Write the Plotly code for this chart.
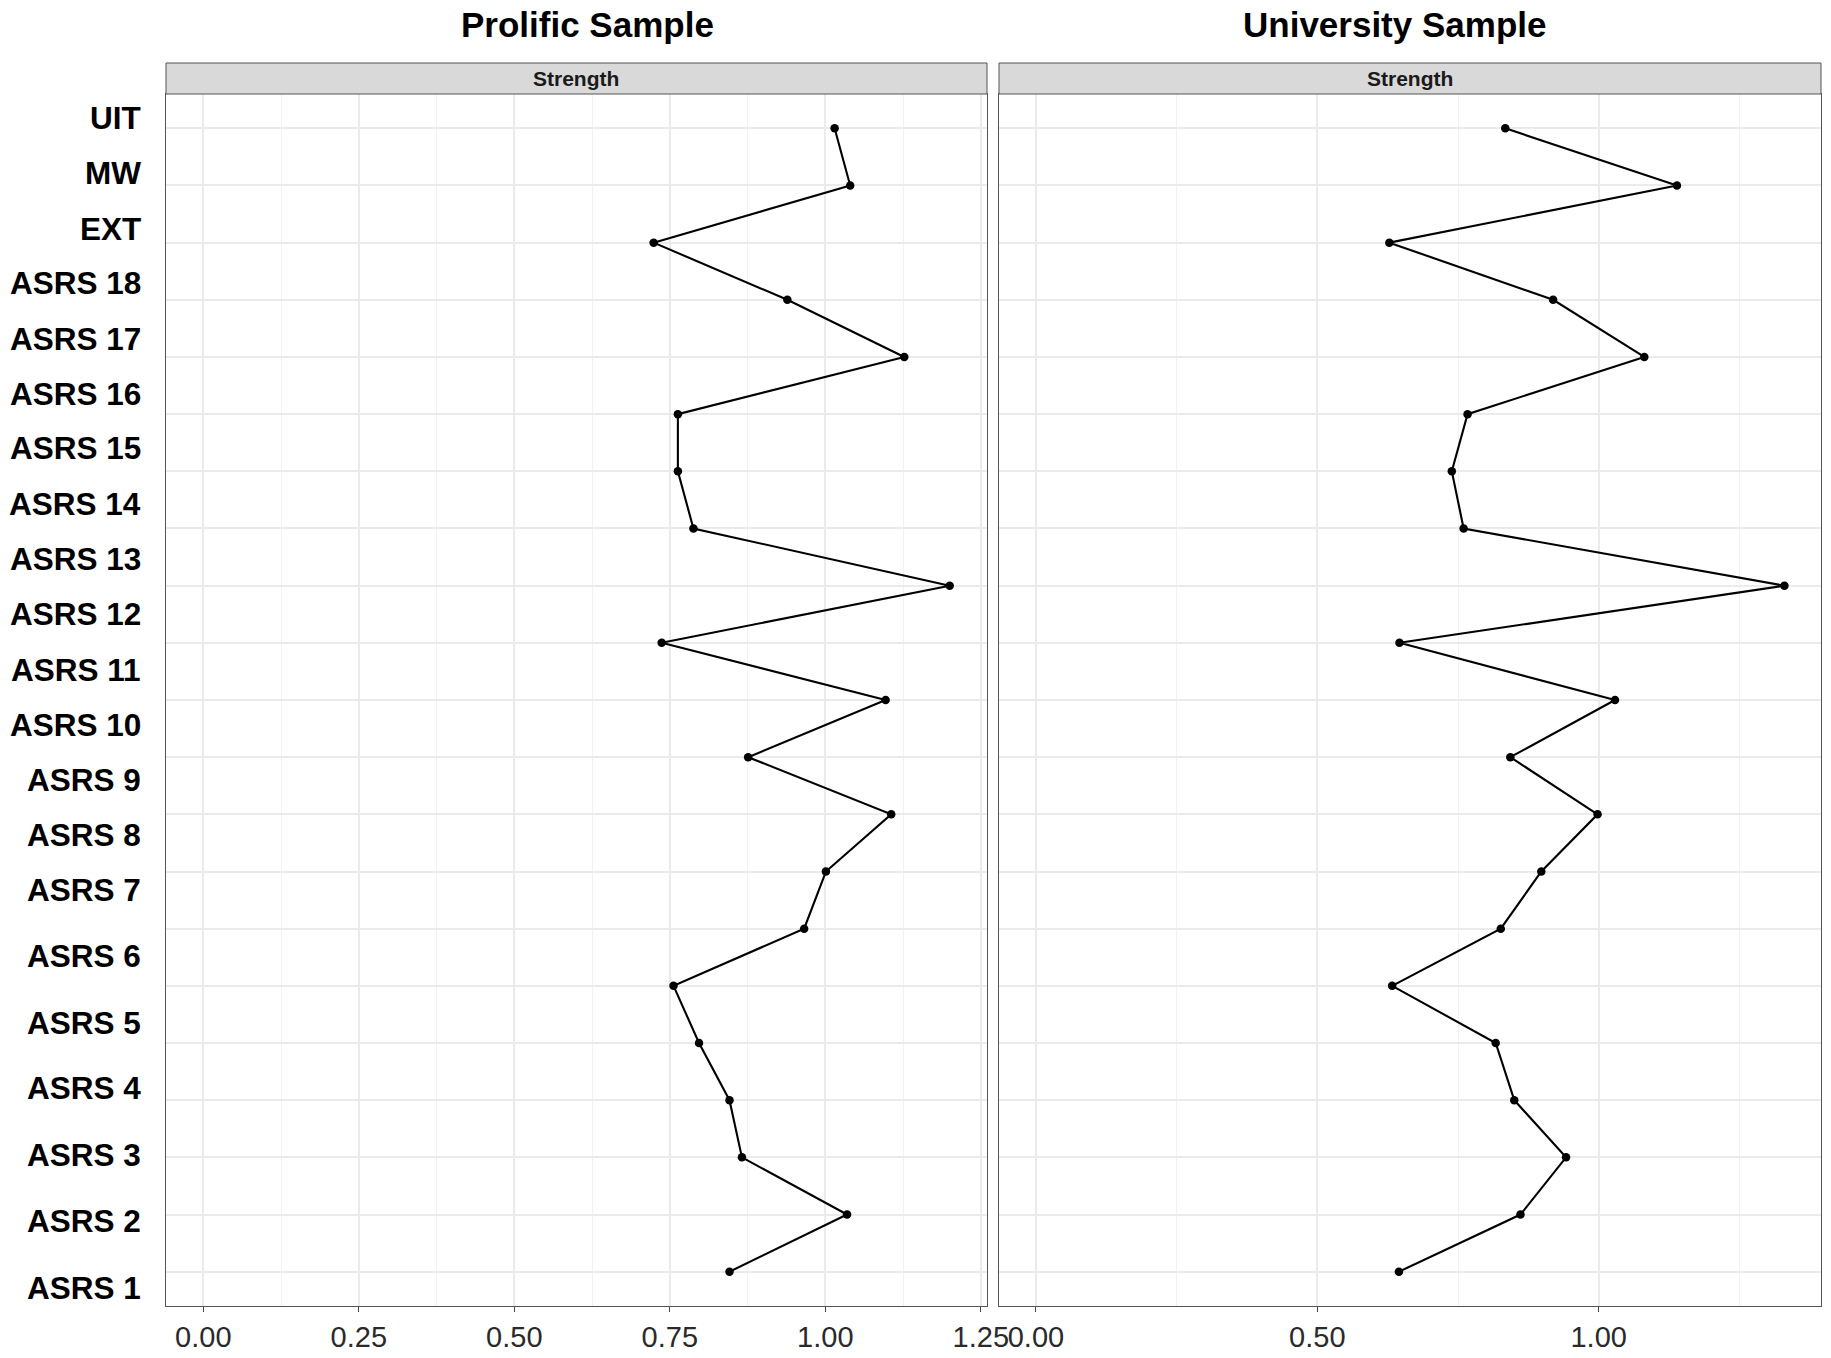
import plotly.graph_objects as go

# Node labels, top to bottom
nodes = ["UIT", "MW", "EXT", "ASRS 18", "ASRS 17", "ASRS 16", "ASRS 15", "ASRS 14",
         "ASRS 13", "ASRS 12", "ASRS 11", "ASRS 10", "ASRS 9", "ASRS 8", "ASRS 7",
         "ASRS 6", "ASRS 5", "ASRS 4", "ASRS 3", "ASRS 2", "ASRS 1"]

# Strength centrality values
prolific_strength = [1.015, 1.040, 0.724, 0.939, 1.127, 0.763, 0.763, 0.788,
                     1.200, 0.737, 1.097, 0.876, 1.106, 1.001, 0.966,
                     0.756, 0.797, 0.846, 0.866, 1.035, 0.846]
university_strength = [0.834, 1.139, 0.628, 0.919, 1.081, 0.767, 0.739, 0.760,
                       1.330, 0.646, 1.029, 0.843, 0.998, 0.898, 0.826,
                       0.633, 0.817, 0.850, 0.942, 0.861, 0.645]

panel_titles = ["Prolific Sample", "University Sample"]
strip_label = "Strength"

W, H = 1831, 1358
FONT = "Liberation Sans, Arial, Helvetica, sans-serif"

def px_x(v):
    return v / W

def px_y(v):
    return 1 - v / H

fig = go.Figure()
fig.add_trace(go.Scatter(x=prolific_strength, y=nodes, mode="lines+markers",
                         line=dict(color="black", width=2.1),
                         marker=dict(color="black", size=8.5),
                         xaxis="x", yaxis="y", showlegend=False))
fig.add_trace(go.Scatter(x=university_strength, y=nodes, mode="lines+markers",
                         line=dict(color="black", width=2.1),
                         marker=dict(color="black", size=8.5),
                         xaxis="x2", yaxis="y2", showlegend=False))

panel_top, panel_bottom = 94, 1306
strip_top = 63
x1_dom = [px_x(166), px_x(987)]
x2_dom = [px_x(999), px_x(1821)]
y_dom = [px_y(panel_bottom), px_y(panel_top)]

cat_order = nodes[::-1]

common_x = dict(showline=True, mirror=True, linecolor="#555555", linewidth=1,
                ticks="outside", ticklen=5, tickcolor="#444444", tickwidth=1,
                tickfont=dict(family=FONT, size=29, color="#2A2A2A"),
                tickformat=".2f", tick0=0, zeroline=False, automargin=False,
                gridcolor="#EBEBEB", gridwidth=1.5)
common_y = dict(type="category", categoryorder="array", categoryarray=cat_order,
                range=[-0.6, 20.6], showticklabels=False, ticks="", automargin=False,
                showline=True, mirror=True, linecolor="#555555", linewidth=1,
                gridcolor="#EBEBEB", gridwidth=1.5, zeroline=False, domain=y_dom)

fig.update_layout(
    width=W, height=H,
    margin=dict(l=0, r=0, t=0, b=0, pad=0),
    paper_bgcolor="white", plot_bgcolor="white",
    xaxis=dict(domain=x1_dom, range=[-0.06, 1.26], dtick=0.25, anchor="y",
               minor=dict(dtick=0.125, tick0=0, showgrid=True, gridcolor="#F2F2F2", gridwidth=1),
               **common_x),
    xaxis2=dict(domain=x2_dom, range=[-0.0656, 1.395], dtick=0.5, anchor="y2",
                minor=dict(dtick=0.25, tick0=0, showgrid=True, gridcolor="#F2F2F2", gridwidth=1),
                **common_x),
    yaxis=dict(anchor="x", **common_y),
    yaxis2=dict(anchor="x2", **common_y),
)

shapes = []
annotations = []
for dom, title, tx in [(x1_dom, panel_titles[0], 587), (x2_dom, panel_titles[1], 1394)]:
    shapes.append(dict(type="rect", xref="paper", yref="paper",
                       x0=dom[0], x1=dom[1], y0=px_y(panel_top), y1=px_y(strip_top),
                       fillcolor="#D9D9D9", line=dict(color="#555555", width=1)))
    annotations.append(dict(text=strip_label, xref="paper", yref="paper",
                            x=(dom[0] + dom[1]) / 2, y=px_y((panel_top + strip_top) / 2),
                            xanchor="center", yanchor="middle", showarrow=False,
                            font=dict(family=FONT, size=21, color="#1A1A1A", weight="bold")))
    annotations.append(dict(text=title, xref="paper", yref="paper",
                            x=px_x(tx), y=px_y(24), xanchor="center", yanchor="middle",
                            showarrow=False,
                            font=dict(family=FONT, size=35, color="black", weight="bold")))

# Row labels (placed as in the reference, slightly offset from the grid rows)
label_y_px = [118, 173, 229, 283, 339, 394, 448, 504, 559, 614, 670, 725, 780, 835,
              890, 956, 1023, 1088, 1155, 1221, 1288]
for lab, ly in zip(nodes, label_y_px):
    annotations.append(dict(text=lab, xref="paper", yref="paper",
                            x=px_x(143), y=px_y(ly), xanchor="right", yanchor="middle",
                            showarrow=False,
                            font=dict(family=FONT, size=31.5, color="black", weight="bold")))

fig.update_layout(shapes=shapes, annotations=annotations)
fig.write_html("out.html", config={"displayModeBar": False},
               post_script="document.body.style.margin='0';document.body.style.overflow='hidden';")
